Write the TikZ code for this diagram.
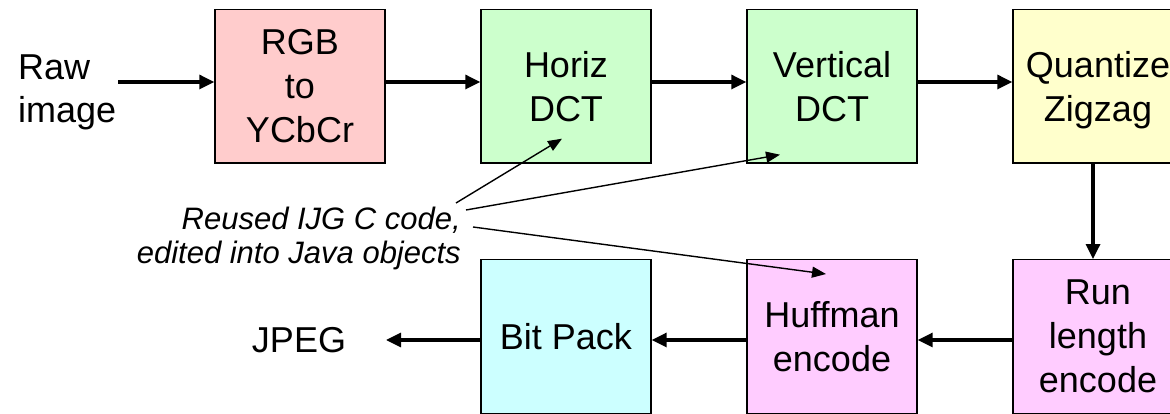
\documentclass[tikz,border=0pt]{standalone}
\usepackage{fontspec}
\setmainfont{Liberation Sans}
\usetikzlibrary{arrows.meta,calc}
\definecolor{convpink}{HTML}{FFCCCC}
\definecolor{dctgreen}{HTML}{CCFFCC}
\definecolor{quantyellow}{HTML}{FFFFCC}
\definecolor{codemagenta}{HTML}{FFCCFF}
\definecolor{packcyan}{HTML}{CCFFFF}
\begin{document}
\begin{tikzpicture}[x=1pt,y=1pt,
  block/.style={draw=black,line width=1.4pt,minimum width=170pt,minimum height=153.5pt,
    inner sep=0pt,align=center,text depth=0pt,font=\fontsize{36}{44}\selectfont},
  label/.style={inner sep=0pt,font=\fontsize{36}{43}\selectfont},
  flow/.style={line width=3.2pt,-{Triangle[length=15pt,width=14pt]}},
  pointer/.style={line width=1.4pt,-{Triangle[length=14pt,width=11pt]}}]
\fill[white] (0,0) rectangle (1170,414);
\clip (0,0) rectangle (1170,414);

% top row: colour conversion and transform stages
\node[block,fill=convpink]    (rgb)   at (300,327.75)  {RGB\\to\\YCbCr};
\node[block,fill=dctgreen]    (horiz) at (566,327.75)  {Horiz\\DCT};
\node[block,fill=dctgreen]    (vert)  at (832,327.75)  {Vertical\\DCT};
\node[block,fill=quantyellow] (quant) at (1098,327.75) {Quantize\\Zigzag};

% bottom row: entropy coding and output
\node[block,fill=codemagenta] (run)   at (1098,77.5) {Run\\length\\encode};
\node[block,fill=codemagenta] (huff)  at (832,77.5)  {Huffman\\encode};
\node[block,fill=packcyan]    (bitp)  at (566,77.5)  {Bit Pack};

% input and output labels
\node[label,align=left,anchor=north west] (raw) at (18,359.8) {Raw\\image};
\node[label,anchor=base] (jpeg) at (299,61) {JPEG};
\coordinate (rawend) at (118,332);
\coordinate (jpegend) at (386,74);

% data flow
\draw[flow] (rawend) -- (rgb.west |- rawend);
\draw[flow] ([yshift=4.25pt]rgb.east)   -- ([yshift=4.25pt]horiz.west);
\draw[flow] ([yshift=4.25pt]horiz.east) -- ([yshift=4.25pt]vert.west);
\draw[flow] ([yshift=4.25pt]vert.east)  -- ([yshift=4.25pt]quant.west);
\draw[flow] ([xshift=-5pt]quant.south)  -- ([xshift=-5pt]run.north);
\draw[flow] ([yshift=-3.5pt]run.west)   -- ([yshift=-3.5pt]huff.east);
\draw[flow] ([yshift=-3.5pt]huff.west)  -- ([yshift=-3.5pt]bitp.east);
\draw[flow] ([yshift=-3.5pt]bitp.west)  -- (jpegend);

% note on reused code
\node[inner sep=0pt,align=right,anchor=north east,
  font=\fontsize{31}{34}\selectfont\itshape] (note) at (461,207.2)
  {Reused IJG C code,\\edited into Java objects};
\coordinate (n1) at (456,211);
\coordinate (n2) at (466,204);
\coordinate (n3) at (473,187);
\draw[pointer] (n1) -- ($(horiz.south)+(-4,25)$);
\draw[pointer] (n2) -- ($(vert.south)+(-52,9)$);
\draw[pointer] (n3) -- ($(huff.north)+(-6,-15)$);
\end{tikzpicture}
\end{document}
